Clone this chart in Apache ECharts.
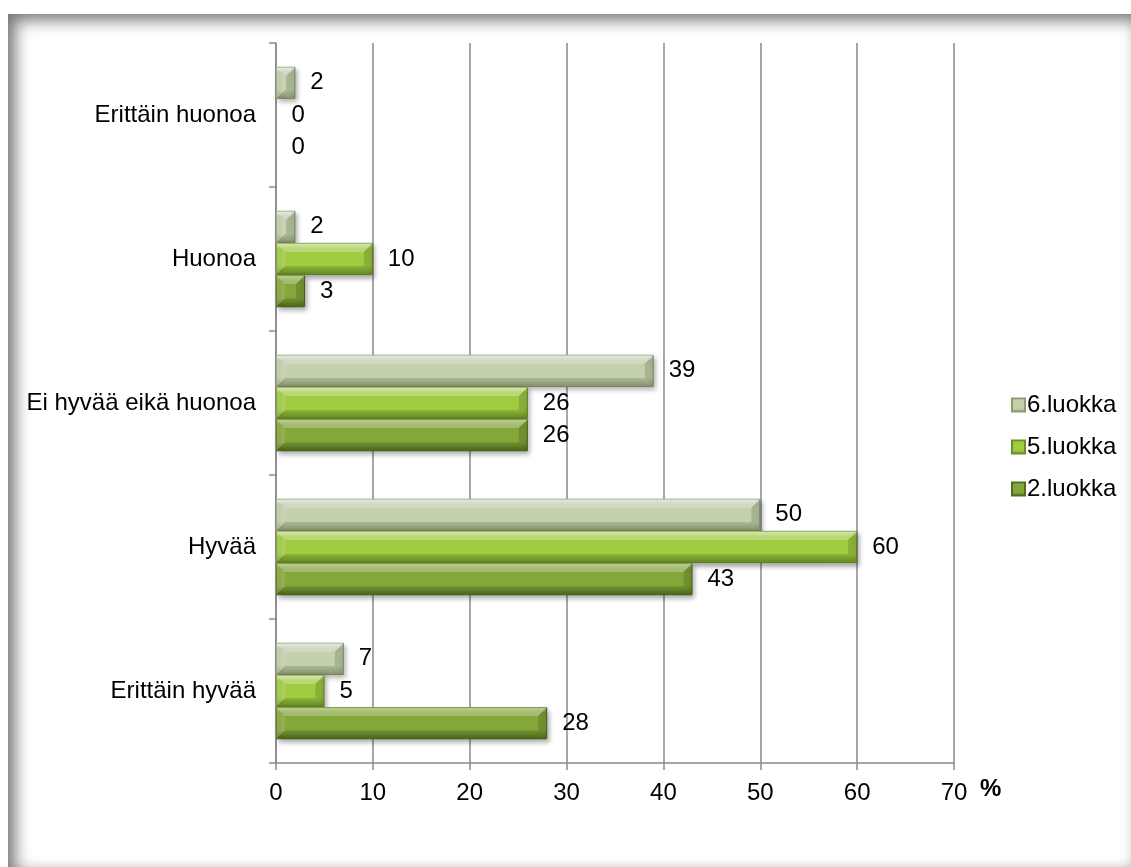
<!DOCTYPE html>
<html>
<head>
<meta charset="utf-8">
<script src="https://cdn.jsdelivr.net/npm/echarts@6/dist/echarts.min.js"></script>
<style>
  html, body { margin: 0; padding: 0; background: #ffffff; }
  #frame {
    position: absolute; left: 8px; top: 14px; width: 1123px; height: 853px;
    box-shadow: inset 7px 6px 16px rgba(0,0,0,0.55);
    background: #ffffff;
  }
  #chart { position: absolute; left: 0; top: 0; width: 1131px; height: 867px; }
</style>
</head>
<body>
<div id="frame"></div>
<div id="chart"></div>
<script>
// Rating categories, listed bottom to top
const categories = ['Erittäin hyvää', 'Hyvää', 'Ei hyvää eikä huonoa', 'Huonoa', 'Erittäin huonoa'];
// Share of answers (%) per class
const luokka6 = [7, 50, 39, 2, 2];
const luokka5 = [5, 60, 26, 10, 0];
const luokka2 = [28, 43, 26, 3, 0];
const classNames = ['6.luokka', '5.luokka', '2.luokka'];
const xTicks = { min: 0, max: 70, interval: 10 };

const FONT = '"Liberation Sans", Arial, sans-serif';
const FS = 24;
const GAP = 0.33;          // barCategoryGap as a fraction
const N_SERIES = 3;

function grad(top, mid, bottom) {
  return new echarts.graphic.LinearGradient(0, 0, 0, 1, [
    { offset: 0, color: top },
    { offset: 0.2, color: mid },
    { offset: 0.72, color: mid },
    { offset: 1, color: bottom }
  ]);
}

function barSeries(name, data, fill, border) {
  return {
    name: name,
    type: 'bar',
    // zero-length bars keep their label but draw no outline or shadow
    data: data.map(v => v === 0
      ? { value: v, itemStyle: { borderColor: 'transparent', shadowColor: 'transparent' } }
      : v),
    barGap: '0%',
    barCategoryGap: (GAP * 100) + '%',
    z: 2,
    itemStyle: {
      color: fill,
      borderColor: border,
      borderWidth: 1,
      shadowColor: 'rgba(0,0,0,0.35)',
      shadowBlur: 5,
      shadowOffsetX: 2,
      shadowOffsetY: 3
    },
    label: {
      show: true,
      position: 'right',
      distance: 15,
      color: '#000',
      fontSize: FS,
      fontFamily: FONT
    }
  };
}

// Bevel highlights drawn on top of each bar (light top/left, dark bottom/right)
function bevelSeries(slot, data) {
  return {
    type: 'custom',
    name: 'bevel' + slot,
    z: 3,
    silent: true,
    data: data.map((v, i) => [v, i]),
    encode: { x: 0, y: 1 },
    renderItem: function (params, api) {
      const v = api.value(0);
      const i = api.value(1);
      if (!v) return null;
      const p0 = api.coord([0, i]);
      const p1 = api.coord([v, i]);
      const band = api.size([0, 1])[1];
      const h = band * (1 - GAP) / N_SERIES;
      const y0 = p0[1] - h * N_SERIES / 2 + slot * h;
      const y1 = y0 + h;
      const x0 = p0[0], x1 = p1[0];
      const b = Math.min(9, (x1 - x0) / 2, h / 2);
      const poly = (pts, fill) => ({ type: 'polygon', shape: { points: pts }, style: { fill: fill } });
      return {
        type: 'group',
        children: [
          poly([[x0, y0], [x1, y0], [x1 - b, y0 + b], [x0 + b, y0 + b]], 'rgba(255,255,255,0.28)'),
          poly([[x0, y1], [x1, y1], [x1 - b, y1 - b], [x0 + b, y1 - b]], 'rgba(0,0,0,0.12)'),
          poly([[x0, y0], [x0 + b, y0 + b], [x0 + b, y1 - b], [x0, y1]], 'rgba(255,255,255,0.12)'),
          poly([[x1, y0], [x1 - b, y0 + b], [x1 - b, y1 - b], [x1, y1]], 'rgba(0,0,0,0.14)')
        ]
      };
    }
  };
}

const chart = echarts.init(document.getElementById('chart'), null, { renderer: 'canvas' });
chart.setOption({
  animation: false,
  textStyle: { fontFamily: FONT },
  grid: { left: 276, top: 43, right: 177, bottom: 104, containLabel: false },
  legend: {
    orient: 'vertical',
    left: 1006,
    top: 388,
    itemGap: 18,
    itemWidth: 13,
    itemHeight: 13,
    icon: 'rect',
    data: classNames,
    textStyle: { fontSize: FS, color: '#000', fontFamily: FONT, padding: [0, 0, 0, -3] }
  },
  xAxis: {
    type: 'value',
    min: xTicks.min, max: xTicks.max, interval: xTicks.interval,
    name: '%',
    nameLocation: 'end',
    nameGap: 26,
    nameTextStyle: { fontSize: FS, fontWeight: 'bold', color: '#000', verticalAlign: 'top', padding: [14, 0, 0, 0] },
    axisLine: { show: true, lineStyle: { color: '#8a8a8a', width: 1.5 } },
    axisTick: { show: true, length: 7, lineStyle: { color: '#8a8a8a', width: 1.5 } },
    axisLabel: { fontSize: FS, color: '#000', margin: 18 },
    splitLine: { show: true, lineStyle: { color: '#8a8a8a', width: 1.5 } }
  },
  yAxis: {
    type: 'category',
    data: categories,
    axisLine: { show: true, lineStyle: { color: '#8a8a8a', width: 1.5 } },
    axisTick: { show: true, length: 7, lineStyle: { color: '#8a8a8a', width: 1.5 } },
    axisLabel: { fontSize: FS, color: '#000', margin: 20 },
    splitLine: { show: false }
  },
  series: [
    barSeries(classNames[0], luokka6, grad('#edf2e2', '#c4d1ad', '#97a97b'), '#8a9c72'),
    barSeries(classNames[1], luokka5, grad('#d9f196', '#a0cc42', '#6e9a24'), '#6c8e2a'),
    barSeries(classNames[2], luokka2, grad('#b2ca66', '#84a739', '#56721e'), '#536d20'),
    bevelSeries(0, luokka6),
    bevelSeries(1, luokka5),
    bevelSeries(2, luokka2)
  ]
});
</script>
</body>
</html>
